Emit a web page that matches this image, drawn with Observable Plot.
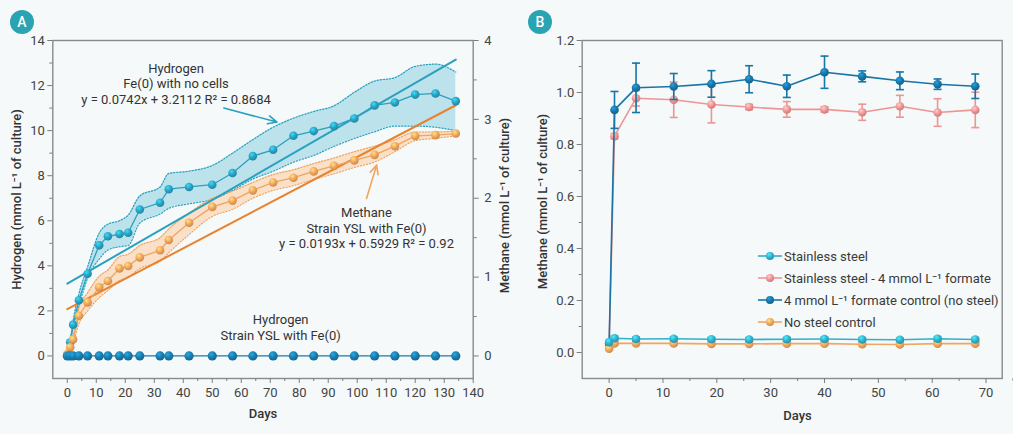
<!DOCTYPE html>
<html><head><meta charset="utf-8">
<script src="https://cdn.jsdelivr.net/npm/d3@7"></script>
<script src="https://cdn.jsdelivr.net/npm/@observablehq/plot@0.6"></script>
<style>
body{margin:0;background:#f5f9f9;font-family:Roboto,sans-serif;}
#wrap{position:relative;width:1013px;height:434px;overflow:hidden;background:#f5f9f9;}
.panel{position:absolute;top:0;}
.badge{position:absolute;width:24px;height:24px;border-radius:50%;background:#2aa3b3;color:#fff;font:500 14px Roboto,sans-serif;display:flex;align-items:center;justify-content:center;}
.legend{position:absolute;left:757px;top:245px;font:13px Roboto,sans-serif;color:#3a3a3a;}
.legend div{height:22px;display:flex;align-items:center;white-space:nowrap;}
.legend svg{margin-right:1px;}
</style></head><body>
<div id="wrap"></div>
<script>
// ---------- Panel A data ----------
const daysA = [0,1,2,4,7,11,14,18,21,25,32,35,42,50,57,64,71,78,85,92,99,106,113,120,127,134];
const h2NoCells   = [0.05,0.61,1.39,2.47,3.65,4.91,5.31,5.41,5.47,6.50,6.80,7.40,7.50,7.60,8.12,8.87,9.15,9.77,9.98,10.20,10.54,11.12,11.25,11.60,11.65,11.31];
const h2NoCellsLo = [0.00,0.55,1.25,2.20,3.45,4.30,4.70,4.85,4.90,5.90,6.30,6.55,6.75,6.95,7.35,7.85,8.20,8.60,8.90,9.30,9.65,9.95,10.20,10.20,10.15,10.00];
const h2NoCellsHi = [0.10,0.70,1.55,2.75,3.95,5.45,5.85,6.00,6.25,7.10,7.50,8.10,8.20,8.45,9.00,9.60,10.15,10.55,10.85,11.10,11.70,12.20,12.35,12.85,12.95,12.60];
const methaneYSL   = [0.028,0.11,0.21,0.51,0.68,0.87,0.95,1.11,1.14,1.25,1.34,1.47,1.69,1.89,1.97,2.10,2.20,2.26,2.34,2.41,2.48,2.55,2.66,2.79,2.80,2.82];
const methaneYSLLo = [0.00,0.07,0.16,0.41,0.57,0.74,0.83,0.96,1.00,1.11,1.20,1.31,1.54,1.77,1.86,2.00,2.10,2.16,2.24,2.31,2.39,2.46,2.59,2.73,2.76,2.79];
const methaneYSLHi = [0.06,0.16,0.27,0.61,0.80,1.01,1.09,1.26,1.29,1.40,1.50,1.61,1.81,2.00,2.09,2.20,2.30,2.36,2.44,2.51,2.59,2.66,2.74,2.84,2.84,2.85];
const h2YSL = [0,0,0,0,0,0,0,0,0,0,0,0,0,0,0,0,0,0,0,0,0,0,0,0,0,0];
const fitH2  = {slope:0.0742, intercept:3.2112};
const fitCH4 = {slope:0.0193, intercept:0.5929};
const hydrogenTicks = [0,2,4,6,8,10,12,14];
const methaneTicks = [0,1,2,3,4];
const daysTicksA = [0,10,20,30,40,50,60,70,80,90,100,110,120,130,140];
const annotationsA = [
  {day:37.5, h:12.1, text:"Hydrogen\nFe(0) with no cells\ny = 0.0742x + 3.2112 R² = 0.8684"},
  {day:103.2, h:5.70, text:"Methane\nStrain YSL with Fe(0)\ny = 0.0193x + 0.5929 R² = 0.92"},
  {day:73.6, h:1.30, text:"Hydrogen\nStrain YSL with Fe(0)"}
];
const arrowsA = [
  {x1:54.0, y1:11.0, x2:72.3, y2:10.38, series:"h2"},
  {x1:103.2, y1:6.99, x2:106.7, y2:8.47, series:"ch4"}
];

// ---------- Panel B data ----------
const daysB = [0,1,5,12,19,26,33,40,47,54,61,68];
const steel        = [0.040,0.055,0.052,0.053,0.051,0.050,0.051,0.052,0.050,0.049,0.053,0.050];
const steelSd      = [0.006,0.008,0.007,0.007,0.006,0.007,0.006,0.007,0.006,0.006,0.008,0.007];
const steelFormate   = [0.030,0.832,0.978,0.972,0.954,0.944,0.935,0.935,0.924,0.947,0.923,0.933];
const steelFormateSd = [0.005,0.010,0.030,0.068,0.071,0.010,0.030,0.010,0.031,0.042,0.053,0.068];
const formateCtrl   = [0.035,0.933,1.018,1.023,1.033,1.051,1.024,1.078,1.062,1.045,1.032,1.024];
const formateCtrlSd = [0.005,0.071,0.095,0.050,0.051,0.052,0.043,0.062,0.021,0.034,0.020,0.047];
const noSteel   = [0.015,0.035,0.035,0.035,0.033,0.033,0.034,0.034,0.032,0.031,0.034,0.034];
const noSteelSd = [0.005,0.006,0.005,0.005,0.005,0.005,0.005,0.005,0.005,0.005,0.005,0.005];
const seriesB = ["Stainless steel","Stainless steel - 4 mmol L\u207B\u00B9 formate","4 mmol L\u207B\u00B9 formate control (no steel)","No steel control"];
const methaneTicksB = [0,0.2,0.4,0.6,0.8,1.0,1.2];
const daysTicksB = [0,10,20,30,40,50,60,70];

// ---------- colours ----------
const teal = "#2aa0bf", tealFill = "#a8d9e7";
const orange = "#f0a45c", orangeFill = "#fadcc0", orangeFit = "#e8822f";
const dark = "#1a7bab";
const cB = {[seriesB[0]]:"#33aecb",[seriesB[1]]:"#ef9494",[seriesB[2]]:"#1875a6",[seriesB[3]]:"#f1a65d"};
const gradColors = {gTeal:teal, gOrange:orange, gDark:dark, gB0:cB[seriesB[0]], gB1:cB[seriesB[1]], gB2:cB[seriesB[2]], gB3:cB[seriesB[3]]};

function addDefs(svg){
  const defs = d3.create("svg:defs");
  for (const [id,c] of Object.entries(gradColors)){
    const g = defs.append("radialGradient").attr("id",id).attr("cx","38%").attr("cy","32%").attr("r","70%");
    g.append("stop").attr("offset","0%").attr("stop-color", d3.color(c).brighter(0.9).formatHex());
    g.append("stop").attr("offset","55%").attr("stop-color", c);
    g.append("stop").attr("offset","100%").attr("stop-color", d3.color(c).darker(0.5).formatHex());
  }
  svg.insertBefore(defs.node(), svg.firstChild);
}

const ratio = hydrogenTicks[hydrogenTicks.length-1] / methaneTicks[methaneTicks.length-1];
const rowsA = daysA.map((d,i)=>({day:d, h2:h2NoCells[i], h2Lo:h2NoCellsLo[i], h2Hi:h2NoCellsHi[i],
  ch4:methaneYSL[i]*ratio, ch4Lo:methaneYSLLo[i]*ratio, ch4Hi:methaneYSLHi[i]*ratio, ysl:h2YSL[i]}));
const fitEnds = [daysA[0], daysA[daysA.length-1]];
const fitRows = fitEnds.flatMap(d=>[
  {day:d, v:fitH2.slope*d+fitH2.intercept, s:"h2"},
  {day:d, v:(fitCH4.slope*d+fitCH4.intercept)*ratio, s:"ch4"}]);

const axisStyle = {stroke:"#7d7d7d", fill:"#444", fontSize:13};
const titleStyle = {fill:"#333", fontSize:13, fontWeight:500, textAnchor:"middle", lineAnchor:"middle"};
const plotA = Plot.plot({
  width:510, height:434, marginLeft:52.3, marginRight:37.3, marginTop:40, marginBottom:56,
  style:{background:"transparent", fontFamily:"Roboto, sans-serif", fontSize:"13px", overflow:"visible"},
  x:{domain:[-5,140]}, y:{domain:[-1,14]},
  marks:[
    Plot.areaY(rowsA,{x:"day",y1:"h2Lo",y2:"h2Hi",fill:tealFill,fillOpacity:0.75,curve:"monotone-x"}),
    Plot.areaY(rowsA,{x:"day",y1:"ch4Lo",y2:"ch4Hi",fill:orangeFill,fillOpacity:0.85,curve:"monotone-x"}),
    Plot.line(rowsA,{x:"day",y:"h2Hi",stroke:teal,strokeWidth:1.2,strokeDasharray:"1.3,1.8",curve:"monotone-x"}),
    Plot.line(rowsA,{x:"day",y:"h2Lo",stroke:teal,strokeWidth:1.2,strokeDasharray:"1.3,1.8",curve:"monotone-x"}),
    Plot.line(rowsA,{x:"day",y:"ch4Hi",stroke:orange,strokeWidth:1.2,strokeDasharray:"1.3,1.8",curve:"monotone-x"}),
    Plot.line(rowsA,{x:"day",y:"ch4Lo",stroke:orange,strokeWidth:1.2,strokeDasharray:"1.3,1.8",curve:"monotone-x"}),
    Plot.line(fitRows.filter(d=>d.s==="h2"),{x:"day",y:"v",stroke:teal,strokeWidth:2}),
    Plot.line(fitRows.filter(d=>d.s==="ch4"),{x:"day",y:"v",stroke:orangeFit,strokeWidth:2}),
    Plot.line(rowsA,{x:"day",y:"h2",stroke:teal,strokeWidth:1.3}),
    Plot.line(rowsA,{x:"day",y:"ch4",stroke:orange,strokeWidth:1.3}),
    Plot.dot(rowsA,{x:"day",y:"h2",r:4.3,fill:"url(#gTeal)",stroke:"none"}),
    Plot.dot(rowsA,{x:"day",y:"ch4",r:4.3,fill:"url(#gOrange)",stroke:"none"}),
    Plot.line(rowsA,{x:"day",y:"ysl",stroke:dark,strokeWidth:1.3}),
    Plot.dot(rowsA,{x:"day",y:"ysl",r:4.6,fill:"url(#gDark)",stroke:"none"}),
    Plot.arrow(arrowsA,{x1:"x1",y1:"y1",x2:"x2",y2:"y2",stroke:d=>d.series==="h2"?teal:orange,strokeWidth:1.6,headLength:9,headAngle:50}),
    Plot.text(annotationsA,{x:"day",y:"h",text:"text",fill:"#333",fontSize:13,lineHeight:1.22}),
    Plot.frame({stroke:"#8a8a8a",strokeWidth:1.4}),
    Plot.axisX({ticks:daysTicksA, tickSize:5, tickPadding:4, label:null, ...axisStyle}),
    Plot.axisX({ticks:daysTicksA.slice(0,-1).map(d=>d+5), tickSize:3, tickFormat:()=>"", label:null, stroke:"#7d7d7d"}),
    Plot.axisY({anchor:"left", ticks:hydrogenTicks, tickSize:5, tickPadding:3, label:null, ...axisStyle}),
    Plot.axisY({anchor:"left", ticks:hydrogenTicks.slice(0,-1).map(d=>d+1), tickSize:3, tickFormat:()=>"", label:null, stroke:"#7d7d7d"}),
    Plot.axisY({anchor:"right", ticks:methaneTicks.map(v=>v*ratio), tickFormat:v=>String(Math.round(v/ratio)), tickSize:5, tickPadding:6, label:null, ...axisStyle}),
    Plot.axisY({anchor:"right", ticks:methaneTicks.slice(0,-1).map(v=>(v+0.5)*ratio), tickSize:3, tickFormat:()=>"", label:null, stroke:"#7d7d7d"}),
    Plot.text(["Days"],{frameAnchor:"bottom", dy:35, ...titleStyle}),
    Plot.text(["Hydrogen (mmol L\u207B\u00B9 of culture)"],{frameAnchor:"left", dx:-36, dy:-10, rotate:-90, ...titleStyle}),
    Plot.text(["Methane (mmol L\u207B\u00B9 of culture)"],{frameAnchor:"right", dx:32, dy:-4, rotate:-90, ...titleStyle})
  ]
});
addDefs(plotA);
plotA.classList.add("panel"); plotA.style.left="0px";

// ---------- Panel B ----------
const rowsB = [];
const valsB = [steel, steelFormate, formateCtrl, noSteel];
const sdsB = [steelSd, steelFormateSd, formateCtrlSd, noSteelSd];
const drawOrder = [1,2,3,0];
for (const k of drawOrder) daysB.forEach((d,i)=>rowsB.push({series:seriesB[k], k, day:d, v:valsB[k][i], lo:valsB[k][i]-sdsB[k][i], hi:valsB[k][i]+sdsB[k][i]}));
const cap = {draw(ctx,size){const r=Math.sqrt(size/Math.PI); ctx.moveTo(-r,0); ctx.lineTo(r,0);}};
const marksB = [];
for (const k of drawOrder){
  const rs = rowsB.filter(d=>d.k===k), col = cB[seriesB[k]];
  marksB.push(
    Plot.line(rs,{x:"day",y:"v",stroke:col,strokeWidth:1.6}),
    Plot.ruleX(rs,{x:"day",y1:"lo",y2:"hi",stroke:col,strokeWidth:1.6}),
    Plot.dot(rs,{x:"day",y:"hi",symbol:cap,r:4,stroke:col,strokeWidth:1.6,fill:"none"}),
    Plot.dot(rs,{x:"day",y:"lo",symbol:cap,r:4,stroke:col,strokeWidth:1.6,fill:"none"}),
    Plot.dot(rs,{x:"day",y:"v",r:4.3,fill:`url(#gB${k})`,stroke:"none"})
  );
}
const plotB = Plot.plot({
  width:503, height:434, marginLeft:71.7, marginRight:11.3, marginTop:40, marginBottom:56,
  style:{background:"transparent", fontFamily:"Roboto, sans-serif", fontSize:"13px", overflow:"visible"},
  x:{domain:[-5,73]}, y:{domain:[-0.1,1.2]},
  marks:[
    ...marksB,
    Plot.frame({stroke:"#8a8a8a",strokeWidth:1.4}),
    Plot.axisX({ticks:daysTicksB, tickSize:5, tickPadding:4, label:null, ...axisStyle}),
    Plot.axisX({ticks:daysTicksB.map(d=>d+5), tickSize:3, tickFormat:()=>"", label:null, stroke:"#7d7d7d"}),
    Plot.axisY({anchor:"left", ticks:methaneTicksB, tickFormat:d3.format(".1f"), tickSize:5, tickPadding:3, label:null, ...axisStyle}),
    Plot.axisY({anchor:"left", ticks:methaneTicksB.slice(0,-1).map(d=>d+0.1), tickSize:3, tickFormat:()=>"", label:null, stroke:"#7d7d7d"}),
    Plot.text([daysTicksB[daysTicksB.length-1]/2],{x:d=>d, text:()=>"Days", frameAnchor:"bottom", dy:37, ...titleStyle}),
    Plot.text(["Methane (mmol L\u207B\u00B9 of culture)"],{frameAnchor:"left", dx:-39, dy:-8, rotate:-90, ...titleStyle})
  ]
});
addDefs(plotB);
plotB.classList.add("panel"); plotB.style.left="510px";

const wrap = document.getElementById("wrap");
wrap.append(plotA, plotB);
for (const [t,l,tp] of [["A",10,10],["B",528,10]]){
  const b = document.createElement("div"); b.className="badge"; b.textContent=t; b.style.left=l+"px"; b.style.top=tp+"px"; wrap.append(b);
}
const leg = document.createElement("div"); leg.className="legend";
[0,1,2,3].forEach(k=>{
  const row = document.createElement("div");
  const col = cB[seriesB[k]];
  row.innerHTML = `<svg width="26" height="12"><line x1="1" x2="25" y1="6" y2="6" stroke="${col}" stroke-width="1.6"/><circle cx="13" cy="6" r="4" fill="url(#gB${k})"/></svg><span>${seriesB[k]}</span>`;
  leg.append(row);
});
wrap.append(leg);
</script>
</body></html>
